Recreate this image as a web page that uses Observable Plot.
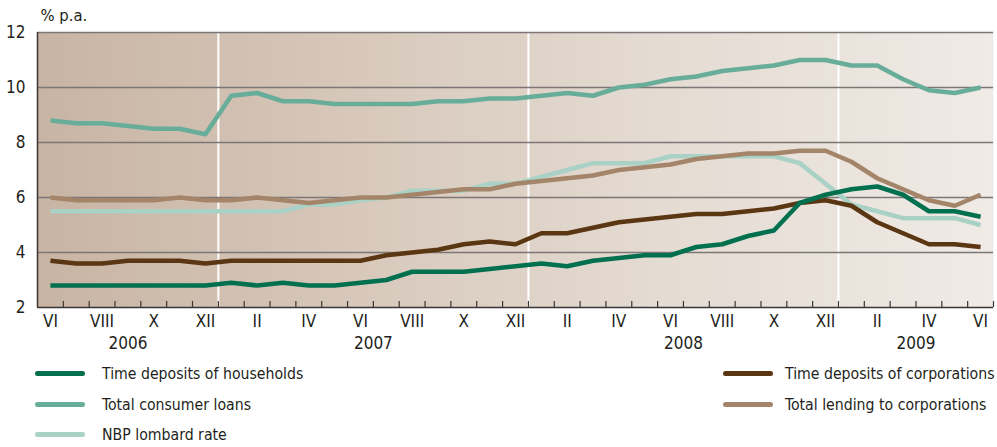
<!DOCTYPE html>
<html><head><meta charset="utf-8">
<script src="https://cdn.jsdelivr.net/npm/d3@7"></script>
<script src="https://cdn.jsdelivr.net/npm/@observablehq/plot@0.6"></script>
<style>
body{margin:0;background:#fff;}
#wrap{position:relative;width:997px;height:447px;font-family:"Liberation Sans Narrow","DejaVu Sans Condensed",sans-serif;color:#231f20;}
.leg{position:absolute;display:flex;align-items:center;font-size:15.7px;white-space:nowrap;height:20px;}
.sw{width:50px;height:5px;border-radius:3px;flex:none;}
</style></head><body><div id="wrap"></div>
<script>
const months = ["VI","VII","VIII","IX","X","XI","XII",
  "I","II","III","IV","V","VI","VII","VIII","IX","X","XI","XII",
  "I","II","III","IV","V","VI","VII","VIII","IX","X","XI","XII",
  "I","II","III","IV","V","VI"];
const monthYear = [2006,2006,2006,2006,2006,2006,2006,
  2007,2007,2007,2007,2007,2007,2007,2007,2007,2007,2007,2007,
  2008,2008,2008,2008,2008,2008,2008,2008,2008,2008,2008,2008,
  2009,2009,2009,2009,2009,2009];
const years = [2006,2007,2008,2009];
const yTicks = [2,4,6,8,10,12];

const households = [2.8,2.8,2.8,2.8,2.8,2.8,2.8,2.9,2.8,2.9,2.8,2.8,2.9,3.0,3.3,3.3,3.3,3.4,3.5,3.6,3.5,3.7,3.8,3.9,3.9,4.2,4.3,4.6,4.8,5.8,6.1,6.3,6.4,6.1,5.5,5.5,5.3];
const consumerLoans = [8.8,8.7,8.7,8.6,8.5,8.5,8.3,9.7,9.8,9.5,9.5,9.4,9.4,9.4,9.4,9.5,9.5,9.6,9.6,9.7,9.8,9.7,10.0,10.1,10.3,10.4,10.6,10.7,10.8,11.0,11.0,10.8,10.8,10.3,9.9,9.8,10.0];
const lombard = [5.5,5.5,5.5,5.5,5.5,5.5,5.5,5.5,5.5,5.5,5.75,5.75,5.9,6.0,6.25,6.25,6.25,6.5,6.5,6.75,7.0,7.25,7.25,7.25,7.5,7.5,7.5,7.5,7.5,7.25,6.5,5.75,5.5,5.25,5.25,5.25,5.0];
const corpDeposits = [3.7,3.6,3.6,3.7,3.7,3.7,3.6,3.7,3.7,3.7,3.7,3.7,3.7,3.9,4.0,4.1,4.3,4.4,4.3,4.7,4.7,4.9,5.1,5.2,5.3,5.4,5.4,5.5,5.6,5.8,5.9,5.7,5.1,4.7,4.3,4.3,4.2];
const corpLending = [6.0,5.9,5.9,5.9,5.9,6.0,5.9,5.9,6.0,5.9,5.8,5.9,6.0,6.0,6.1,6.2,6.3,6.3,6.5,6.6,6.7,6.8,7.0,7.1,7.2,7.4,7.5,7.6,7.6,7.7,7.7,7.3,6.7,6.3,5.9,5.7,6.1];

const seriesNames = ["Time deposits of households","Total consumer loans","NBP lombard rate","Time deposits of corporations","Total lending to corporations"];
const seriesColors = ["#00704f","#67ad99","#a9d1c5","#5b3612","#a48569"];
const seriesValues = [households, consumerLoans, lombard, corpDeposits, corpLending];
const drawOrder = [2,4,1,3,0];

const idx = months.map((_, i) => i);
const labelIdx = idx.filter(i => i % 2 === 0);
const boundaries = idx.map(i => i + 0.5);
const yearBreaks = idx.filter(i => i > 0 && monthYear[i] !== monthYear[i-1]).map(i => i - 0.5);
const yearCenters = years.map(y => {
  const ii = idx.filter(i => monthYear[i] === y);
  return {year: y, x: d3.mean(ii)};
});

const font = '"Liberation Sans Narrow","DejaVu Sans Condensed",sans-serif';
const marks = [
  Plot.frame({fill: "url(#bgGrad)", stroke: null}),
  Plot.ruleX(yearBreaks, {stroke: "white", strokeWidth: 2}),
  Plot.ruleY(yTicks.filter(v => v > 2), {stroke: "#7d7676", strokeWidth: 1.6}),
];
for (const s of drawOrder) {
  marks.push(Plot.line(idx, {x: i => i, y: i => seriesValues[s][i], stroke: seriesColors[s], strokeWidth: 4.5, strokeLinejoin: "round", strokeLinecap: "butt"}));
}
marks.push(
  Plot.ruleX(boundaries, {y1: 2, y2: 2.22, stroke: "#3a3536", strokeWidth: 1.2}),
  Plot.ruleX([-0.5], {stroke: "#3a3536", strokeWidth: 1.5}),
  Plot.ruleY([2], {stroke: "#3a3536", strokeWidth: 1.5}),
  Plot.axisY(yTicks, {tickSize: 0, tickPadding: 12, fontSize: 17, label: null}),
  Plot.axisX(labelIdx, {tickSize: 0, tickPadding: 7, fontSize: 17, tickFormat: i => months[i], label: null}),
  Plot.text(yearCenters, {x: "x", text: d => String(d.year), frameAnchor: "bottom", lineAnchor: "top", dy: 29, fontSize: 17}),
  Plot.text(["% p.a."], {frameAnchor: "top-left", textAnchor: "start", lineAnchor: "middle", dx: 3, dy: -17, fontSize: 16.5})
);

const plot = Plot.plot({
  width: 997, height: 357,
  marginLeft: 37, marginRight: 4, marginTop: 32, marginBottom: 50,
  style: {fontFamily: font, color: "#231f20", background: "white", overflow: "visible"},
  x: {domain: [-0.5, 36.5], label: null},
  y: {domain: [2, 12], label: null},
  marks
});
const defs = d3.create("svg:defs");
const g = defs.append("linearGradient").attr("id", "bgGrad").attr("x1", "0").attr("x2", "1").attr("y1", "0").attr("y2", "0");
[["0%","#c8b4a3"],["35%","#d8c9bc"],["65%","#e4dbd2"],["100%","#f0ebe6"]].forEach(([o,c]) => g.append("stop").attr("offset", o).attr("stop-color", c));
plot.insertBefore(defs.node(), plot.firstChild);
const wrap = document.getElementById("wrap");
wrap.appendChild(plot);

const legendPos = [[35,363,102],[35,394,102],[35,424,102],[723,363,785],[723,394,785]];
seriesNames.forEach((name, s) => {
  const [sx, top, tx] = legendPos[s];
  const d = document.createElement("div");
  d.className = "leg";
  d.style.left = sx + "px";
  d.style.top = top + "px";
  d.innerHTML = `<span class="sw" style="background:${seriesColors[s]};margin-right:${tx - sx - 50}px"></span><span>${name}</span>`;
  wrap.appendChild(d);
});
</script></body></html>
